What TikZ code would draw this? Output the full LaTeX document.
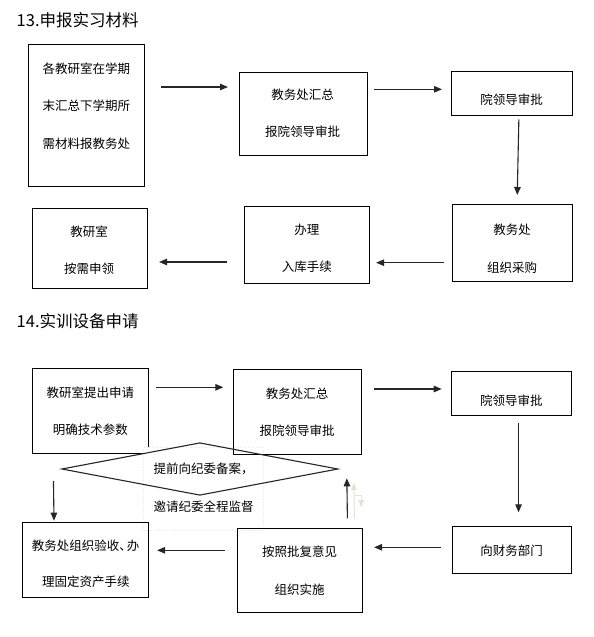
\documentclass[tikz,border=0pt]{standalone}
\usepackage{fontspec}
\setmainfont{Noto Sans CJK SC}
\usetikzlibrary{arrows.meta,calc,shapes.geometric}
\definecolor{ghost}{RGB}{228,226,208}
\definecolor{tbline}{RGB}{232,232,232}
\begin{document}
\begin{tikzpicture}[x=1pt,y=-1pt,
  box/.style={draw=black,line width=1.1pt,inner sep=0pt,anchor=north west},
  txt/.style={inner sep=0pt,font=\fontsize{12.5}{15}\selectfont},
  ttl/.style={inner sep=0pt,anchor=west,font=\fontsize{16.5}{19}\selectfont},
  arr/.style={-{Triangle[length=8pt,width=6.5pt]},line width=1.1pt,draw=black!85},
  ghostarr/.style={-{Triangle[length=7pt,width=5.5pt]},line width=1pt,draw=ghost}]
\useasboundingbox (0,0) rectangle (594,637);
\fill[white] (0,0) rectangle (594,637);

% ---------- section 13 ----------
\node[ttl] (t13) at (16.5,20) {13.申报实习材料};

\node[box,minimum width=116pt,minimum height=141.7pt] (A) at (28.3,44.3) {};
\node[box,minimum width=127.4pt,minimum height=83.6pt] (B) at (239.3,71.7) {};
\node[box,minimum width=120.4pt,minimum height=44.6pt] (C) at (451.3,70.7) {};
\node[box,minimum width=119.4pt,minimum height=76.7pt] (F) at (452.3,204.3) {};
\node[box,minimum width=125pt,minimum height=77pt] (D) at (244.3,206.3) {};
\node[box,minimum width=114.5pt,minimum height=80pt] (E) at (32,208) {};

\node[txt] (a1) at (86.3,68.5) {各教研室在学期};
\node[txt] (a2) at (86.3,106) {末汇总下学期所};
\node[txt] (a3) at (86.3,143.3) {需材料报教务处};
\node[txt] (b1) at (302.5,94.3) {教务处汇总};
\node[txt] (b2) at (302.5,131.7) {报院领导审批};
\node[txt] (c1) at (511.5,100) {院领导审批};
\node[txt] (f1) at (512,230) {教务处};
\node[txt] (f2) at (512,267.3) {组织采购};
\node[txt] (d1) at (306.8,230) {办理};
\node[txt] (d2) at (306.8,267) {入库手续};
\node[txt] (e1) at (89.2,232) {教研室};
\node[txt] (e2) at (89.2,269) {按需申领};

\draw[arr,shorten <=15.7pt,shorten >=11.3pt] (A.east |- 0,87) -- (B.west |- 0,87);
\draw[arr,shorten <=6.3pt,shorten >=9.3pt] (B.east |- 0,89.3) -- (C.west |- 0,89.3);
\draw[arr] ($(C.south)+(6.8,3)$) -- ($(F.north)+(4.7,-9.3)$);
\draw[arr,shorten <=8.3pt,shorten >=5.7pt] (F.west |- 0,262.7) -- (D.east |- 0,262.7);
\draw[arr,shorten <=17.3pt,shorten >=11.5pt] (D.west |- 0,262) -- (E.east |- 0,262);

% ---------- section 14 ----------
\node[ttl] (t14) at (16.5,321) {14.实训设备申请};

\node[box,minimum width=116pt,minimum height=85pt] (G) at (32.3,368.3) {};
\node[draw=tbline,dotted,fill=white,line width=0.6pt,inner sep=0pt,anchor=north west,
      minimum width=120pt,minimum height=83.3pt] (tb) at (143.3,446.7) {};
\node[box,minimum width=127.4pt,minimum height=85pt] (H) at (233.3,369.3) {};
\node[box,minimum width=120pt,minimum height=44.6pt] (I) at (451.3,370.7) {};
\node[box,minimum width=119pt,minimum height=47.6pt] (J) at (452.3,525.7) {};
\node[box,minimum width=124.4pt,minimum height=84pt] (K) at (237.3,528.3) {};
\node[box,minimum width=125.4pt,minimum height=75.6pt] (L) at (22.3,521.7) {};
\node[diamond,draw=black!85,line width=1.1pt,inner sep=0pt,
      minimum width=276.3pt,minimum height=52.6pt] (dm) at (199.85,469) {};

\node[txt] (g1) at (90.3,392.7) {教研室提出申请};
\node[txt] (g2) at (90.3,430) {明确技术参数};
\node[txt] (h1) at (297,393.3) {教务处汇总};
\node[txt] (h2) at (297,431) {报院领导审批};
\node[txt] (i1) at (511.3,400.7) {院领导审批};
\node[txt] (j1) at (511.6,551) {向财务部门};
\node[txt] (k1) at (299.5,551.7) {按照批复意见};
\node[txt] (k2) at (299.5,589.3) {组织实施};
\node[txt] (l1) at (85.5,545.7) {教务处组织验收、\kern-5pt 办};
\node[txt] (l2) at (85.8,581.7) {理固定资产手续};
\node[txt,anchor=west] (m1) at (153.3,469) {提前向纪委备案，};
\node[txt,anchor=west] (m2) at (153.3,506.7) {邀请纪委全程监督};

\draw[arr,shorten <=6.7pt,shorten >=10pt] (G.east |- 0,387.3) -- (H.west |- 0,387.3);
\draw[arr,shorten <=12.3pt,shorten >=9.6pt] (H.east |- 0,389) -- (I.west |- 0,389);
\draw[arr] ($(I.south)+(6.7,6.4)$) -- ($(J.north)+(6.2,-13.4)$);
\draw[arr,shorten <=11pt,shorten >=11.3pt] (J.west |- 0,547.3) -- (K.east |- 0,547.3);
\draw[arr,shorten <=12.3pt,shorten >=8.3pt] (K.west |- 0,550.3) -- (L.east |- 0,550.3);
\draw[arr] ($(dm.west)+(-7.7,12)$) -- ($(L.north west)+(31.7,-1)$);
\draw[arr] ($(K.north east)+(-15.4,-10)$) -- ($(dm.east)+(8.3,9.3)$);

% faint ghost connectors
\coordinate (gh1) at ($(K.north east)+(-8.4,-10)$);
\draw[ghostarr] (gh1) -- ($(dm.east)+(15.3,14)$);
\draw[ghostarr] ($(dm.east)+(16,26)$) -- ($(dm.east)+(22.7,26)$) -- ($(dm.east)+(22.7,38)$);
\end{tikzpicture}
\end{document}
